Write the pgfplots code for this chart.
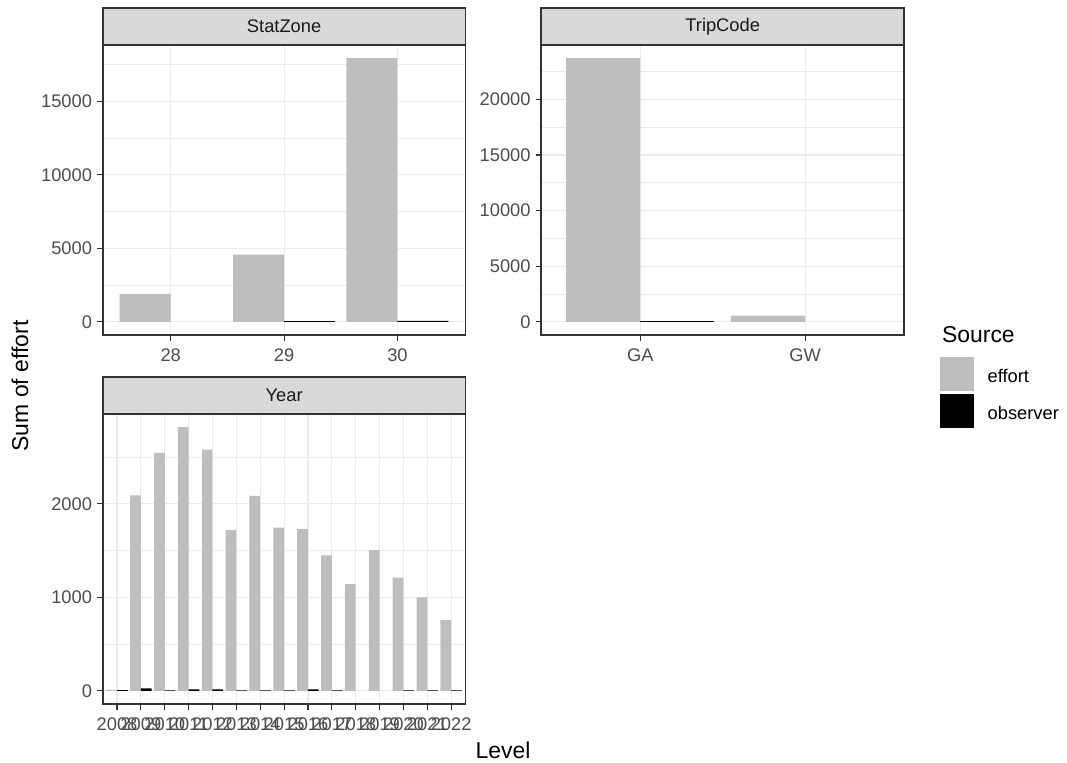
\documentclass[border=0pt]{standalone}
\usepackage{fontspec}
\setmainfont{Liberation Sans}
\usepackage{pgfplots}
\pgfplotsset{compat=1.18}

\definecolor{grey20}{HTML}{333333}
\definecolor{grey30}{HTML}{4D4D4D}
\definecolor{grey10}{HTML}{1A1A1A}
\definecolor{grey92}{HTML}{EBEBEB}
\definecolor{grey85}{HTML}{D9D9D9}
\definecolor{effortgrey}{HTML}{BEBEBE}

\newcommand\tickfont{\fontsize{9.15pt}{11pt}\selectfont}
\newcommand\titlefont{\fontsize{11.46pt}{13.7pt}\selectfont}

\pgfplotsset{
  panel/.style={
    scale only axis, width=181.4pt, height=145pt,
    anchor=south west,
    axis line style={draw=grey20, line width=0.9pt},
    xmajorgrids, ymajorgrids, yminorgrids,
    major grid style={color=grey92, line width=0.55pt},
    minor grid style={color=grey92, line width=0.3pt},
    tick style={color=grey20, line width=0.55pt},
    major tick length=2.85pt, minor tick length=0pt,
    tick align=outside, xtick pos=bottom, ytick pos=left,
    scaled y ticks=false, scaled x ticks=false,
    ticklabel style={font=\tickfont, text=grey30, inner sep=0pt},
    xticklabel style={anchor=north, yshift=-3.6pt},
    yticklabel style={anchor=east, xshift=-2.3pt},
    /pgf/number format/.cd, 1000 sep={}, fixed, assume math mode=true,
  },
  eff/.style={ybar, bar width=0.45, bar shift=-0.225, fill=effortgrey, draw=none},
  obs/.style={ybar, bar width=0.45, bar shift=0.225, fill=black, draw=none},
}

\begin{document}
\begin{tikzpicture}
\path[use as bounding box] (0,0) rectangle (533.5pt,381pt);

% ---------- StatZone ----------
\begin{axis}[panel, name=ax1, at={(51.35pt,213.5pt)},
  xmin=27.4, xmax=30.6, xtick={28,29,30},
  ymin=-896.5, ymax=18826.5,
  ytick={0,5000,10000,15000}, minor ytick={2500,7500,12500,17500}]
\addplot[eff] coordinates {(28,1900) (29,4570) (30,17930)};
\addplot[obs] coordinates {(29,50) (30,68)};
\end{axis}
\draw[fill=grey85, draw=grey20, line width=0.9pt] (ax1.north west) rectangle ++(181.4pt,18.5pt)
  node[midway, font=\tickfont, text=grey10] {StatZone};

% ---------- TripCode ----------
\begin{axis}[panel, name=ax2, at={(270.65pt,213.5pt)},
  xmin=-0.6, xmax=1.6, xtick={0,1}, xticklabels={GA,GW},
  ymin=-1185, ymax=24885,
  ytick={0,5000,10000,15000,20000}, minor ytick={2500,7500,12500,17500,22500},
  legend style={at={(axis description cs:1.098,-0.075)}, anchor=north west,
    draw=none, fill=none, inner sep=0pt, outer sep=0pt,
    row sep=1.6pt, column sep=7pt, font=\tickfont,
    nodes={inner sep=0pt, text=black}},
  legend cell align=left,
  legend image code/.code={\fill (0pt,-6.8pt) rectangle (17pt,10.2pt);}]
\addplot[eff] coordinates {(0,23700) (1,560)};
\addlegendentry{effort}
\addplot[obs] coordinates {(0,118)};
\addlegendentry{observer}
\end{axis}
\draw[fill=grey85, draw=grey20, line width=0.9pt] (ax2.north west) rectangle ++(181.4pt,18.5pt)
  node[midway, font=\tickfont, text=grey10] {TripCode};

% ---------- Year ----------
\begin{axis}[panel, name=ax3, at={(51.35pt,29pt)},
  xmin=2007.4, xmax=2022.6,
  xtick={2008,2009,2010,2011,2012,2013,2014,2015,2016,2017,2018,2019,2020,2021,2022},
  xticklabels={2008,2009,2010,2011,2012,2013,2014,2015,2016,2017,2018,2019,2020,2021,2022},
  ymin=-141, ymax=2961,
  ytick={0,1000,2000}, minor ytick={500,1500,2500}]
\addplot[eff] coordinates {(2008,10) (2009,2090) (2010,2545) (2011,2820) (2012,2580)
  (2013,1720) (2014,2085) (2015,1745) (2016,1730) (2017,1450) (2018,1140)
  (2019,1505) (2020,1210) (2021,1000) (2022,755)};
\addplot[obs] coordinates {(2008,8) (2009,25) (2010,5) (2011,15) (2012,15)
  (2013,5) (2014,5) (2015,5) (2016,15) (2017,5)
  (2020,5) (2021,5) (2022,5)};
\end{axis}
\draw[fill=grey85, draw=grey20, line width=0.9pt] (ax3.north west) rectangle ++(181.4pt,18.5pt)
  node[midway, font=\tickfont, text=grey10] {Year};

% ---------- titles ----------
\node[font=\titlefont, anchor=center] at (251.5pt,6pt) {Level};
\node[font=\titlefont, rotate=90, anchor=center] at (10pt,188pt) {Sum of effort};
\node[font=\titlefont, anchor=west, inner sep=0pt] at (470.85pt,213.5pt) {Source};
\end{tikzpicture}
\end{document}
